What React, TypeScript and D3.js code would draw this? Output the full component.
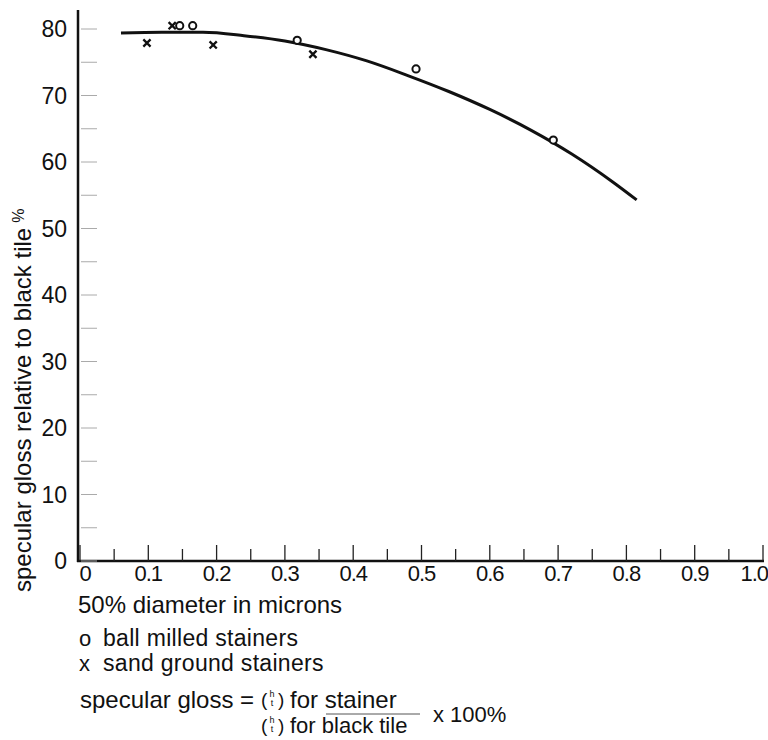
import * as d3 from "d3";

// ball milled stainers (o)
const ballX = [0.146, 0.165, 0.318, 0.492, 0.693];
const ballY = [80.5, 80.5, 78.3, 74.0, 63.3];
// sand ground stainers (x)
const sandX = [0.098, 0.135, 0.195, 0.341];
const sandY = [77.9, 80.5, 77.6, 76.2];
// fitted curve
const curveX = [0.06, 0.12, 0.18, 0.24, 0.3, 0.36, 0.42, 0.48, 0.54, 0.6, 0.66, 0.72, 0.78, 0.815];
const curveY = [79.4, 79.5, 79.5, 79.0, 78.2, 76.9, 75.2, 73.0, 70.6, 67.9, 64.8, 61.2, 57.0, 54.3];

const xLabels = ["0", "0.1", "0.2", "0.3", "0.4", "0.5", "0.6", "0.7", "0.8", "0.9", "1.0"];
const yLabels = ["0", "10", "20", "30", "40", "50", "60", "70", "80"];

const W = 768;
const H = 740;
const font = "'Liberation Sans', Arial, sans-serif";

export default function App() {
  const x = d3.scaleLinear().domain([0, 1]).range([80, 763]);
  const y = d3.scaleLinear().domain([0, 80]).range([561, 29]);

  const line = d3
    .line<number>()
    .x((_, i) => x(curveX[i]))
    .y((d) => y(d))
    .curve(d3.curveMonotoneX);

  const xTicks = x.ticks(20);
  const yTicks = y.ticks(16);

  return (
    <svg
      width={W}
      height={H}
      style={{ position: "absolute", left: 0, top: 0, background: "#fff" }}
      fontFamily={font}
    >
      {/* axes */}
      <line x1={78} x2={78} y1={10} y2={562} stroke="#111" strokeWidth={2.5} />
      <line x1={77} x2={764} y1={561} y2={561} stroke="#111" strokeWidth={2.5} />

      {/* x ticks, pointing up */}
      {xTicks.map((t, i) => (
        <line
          key={"xt" + i}
          x1={x(t)}
          x2={x(t)}
          y1={561}
          y2={561 - (i % 2 === 0 ? 16 : 12)}
          stroke="#222"
          strokeWidth={1.3}
        />
      ))}
      {xLabels.map((l, i) => (
        <text
          key={"xl" + i}
          x={x(i / 10) + (i === 0 ? 5 : 0)}
          y={581}
          fontSize={22}
          textAnchor={i === 10 ? "end" : "middle"}
          dx={i === 10 ? 5 : 0}
          letterSpacing={-1}
          fill="#111"
        >
          {l}
        </text>
      ))}

      {/* y ticks, faint, to the right of the axis */}
      {yTicks.map((t, i) => (
        <line
          key={"yt" + i}
          x1={81}
          x2={97}
          y1={y(t)}
          y2={y(t)}
          stroke="#aaa"
          strokeWidth={1}
        />
      ))}
      {yLabels.map((l, i) => (
        <text
          key={"yl" + i}
          x={67}
          y={y(i * 10) + 8}
          fontSize={23}
          textAnchor="end"
          fill="#111"
        >
          {l}
        </text>
      ))}

      {/* y axis title */}
      <text transform="translate(31,592) rotate(-90)" fontSize={24} fill="#111">
        specular gloss relative to black tile
        <tspan fontSize={16} dx={5} dy={-7}>
          %
        </tspan>
      </text>

      {/* curve */}
      <path d={line(curveY) ?? ""} fill="none" stroke="#111" strokeWidth={3} />

      {/* ball milled: o */}
      {ballX.map((v, i) => (
        <circle
          key={"b" + i}
          cx={x(v)}
          cy={y(ballY[i])}
          r={3.6}
          fill="#fff"
          stroke="#111"
          strokeWidth={2}
        />
      ))}
      {/* sand ground: x */}
      {sandX.map((v, i) => {
        const cx = x(v);
        const cy = y(sandY[i]);
        const s = 3.6;
        return (
          <path
            key={"s" + i}
            d={`M${cx - s},${cy - s}L${cx + s},${cy + s}M${cx + s},${cy - s}L${cx - s},${cy + s}`}
            stroke="#111"
            strokeWidth={2.3}
          />
        );
      })}

      {/* x axis title */}
      <text x={78} y={613} fontSize={24} fill="#111">
        50% diameter in microns
      </text>

      {/* legend */}
      <text x={79} y={646} fontSize={22} fill="#111">o</text>
      <text x={103} y={646} fontSize={23} fill="#111" letterSpacing={0.3}>ball milled stainers</text>
      <text x={79} y={671} fontSize={22} fill="#111">x</text>
      <text x={103} y={671} fontSize={23} fill="#111" letterSpacing={0.3}>sand ground stainers</text>

      {/* formula */}
      <text x={80} y={708} fontSize={24} fill="#111">specular gloss =</text>
      <text x={261} y={706} fontSize={19} fill="#111">(</text>
      <text x={272} y={697} fontSize={9} fill="#111" textAnchor="middle">h</text>
      <text x={272} y={706} fontSize={9} fill="#111" textAnchor="middle">t</text>
      <text x={278} y={706} fontSize={19} fill="#111">)</text>
      <text x={290} y={708} fontSize={24} fill="#111">for stainer</text>
      <line x1={326} x2={420} y1={714} y2={714} stroke="#555" strokeWidth={1} />
      <text x={261} y={732} fontSize={19} fill="#111">(</text>
      <text x={272} y={723} fontSize={9} fill="#111" textAnchor="middle">h</text>
      <text x={272} y={732} fontSize={9} fill="#111" textAnchor="middle">t</text>
      <text x={278} y={732} fontSize={19} fill="#111">)</text>
      <text x={290} y={733} fontSize={22} fill="#111">for black tile</text>
      <text x={433} y={722} fontSize={22} fill="#111">x 100%</text>
    </svg>
  );
}
